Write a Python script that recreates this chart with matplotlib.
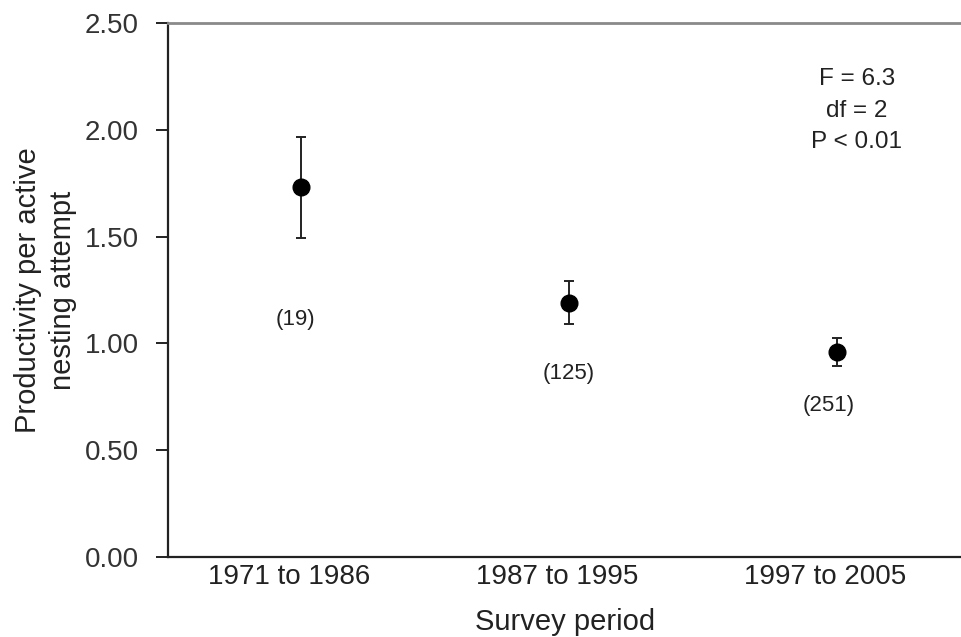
import matplotlib
matplotlib.use("Agg")
import matplotlib.pyplot as plt
import matplotlib.transforms as mtransforms

plt.rcParams['font.family'] = ['Liberation Sans', 'DejaVu Sans']

# Data
periods = ["1971 to 1986", "1987 to 1995", "1997 to 2005"]
means = [1.73, 1.19, 0.96]
errors = [0.235, 0.10, 0.065]
sample_sizes = ["(19)", "(125)", "(251)"]
n_label_y = [1.11, 0.86, 0.71]
n_label_dx = [-0.02, 0.0, -0.03]
yticks = [0.0, 0.5, 1.0, 1.5, 2.0, 2.5]
stats_text = "F = 6.3\ndf = 2\nP < 0.01"

txt = '#222222'

fig = plt.figure(figsize=(9.62, 6.37), dpi=100)
ax = fig.add_axes([168/962, (637-557)/637, (962-168)/962, (557-23)/637])

x = list(range(1, len(periods) + 1))
ax.errorbar(x, means, yerr=errors, fmt='o', color='black', ecolor='#222222',
            markersize=12, elinewidth=1.4, capsize=3.5, capthick=1.4, zorder=3)

for xi, lab, ly, dx in zip(x, sample_sizes, n_label_y, n_label_dx):
    ax.text(xi + dx, ly, lab, ha='center', va='center', fontsize=16, color=txt)

ax.text(3.075, 2.09, stats_text, ha='center', va='center', fontsize=17.5,
        color=txt, linespacing=1.55)

ax.set_xlim(0.504, 3.467)
ax.set_ylim(0, 2.5)
ax.set_yticks(yticks)
ax.set_yticklabels([f"{v:.2f}" for v in yticks], fontsize=20, color='#333333')
ax.set_xticks(x)
ax.set_xticklabels(periods, fontsize=20, color=txt)

ax.tick_params(axis='y', direction='out', length=9, width=1.4, pad=12, colors='#222222', labelcolor='#333333')
ax.tick_params(axis='x', length=0, pad=5)

offset = mtransforms.ScaledTranslation(-12/100, 0, fig.dpi_scale_trans)
for lbl in ax.get_xticklabels():
    lbl.set_transform(lbl.get_transform() + offset)

ax.spines['right'].set_visible(False)
ax.spines['top'].set_color('#8a8a8a')
ax.spines['top'].set_linewidth(2)
ax.spines['left'].set_linewidth(1.6)
ax.spines['left'].set_color('#222222')
ax.spines['bottom'].set_linewidth(1.6)
ax.spines['bottom'].set_color('#222222')

ax.set_xlabel("Survey period", fontsize=21, color=txt, labelpad=13)
ax.set_ylabel("Productivity per active\nnesting attempt", fontsize=21, color=txt,
              linespacing=1.3)
ax.yaxis.set_label_coords(-0.115, 0.5)

fig.savefig("out.png", dpi=100)
